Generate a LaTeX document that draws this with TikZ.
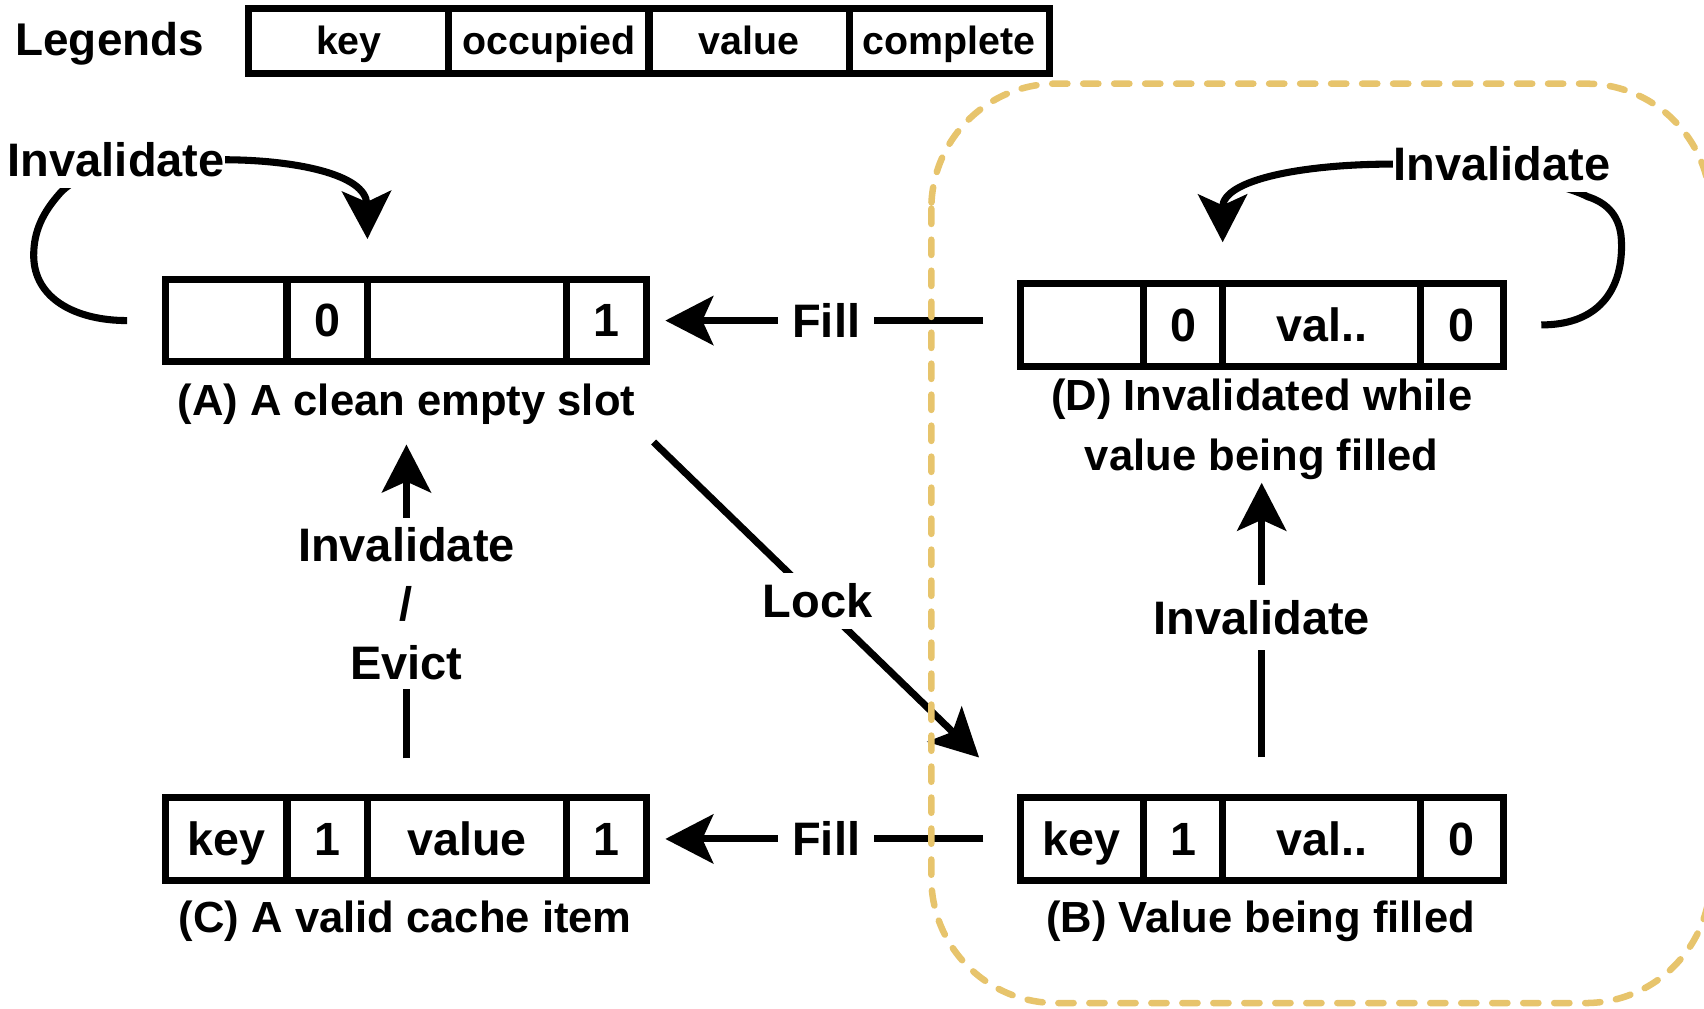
\documentclass[tikz,border=0pt]{standalone}
\usepackage{fontspec}
\setmainfont{Liberation Sans}
\usetikzlibrary{arrows.meta,calc}
\definecolor{lockgold}{RGB}{231,196,108}
\begin{document}
\begin{tikzpicture}[x=0.01cm, y=-0.01cm,
  line width=0.065cm,
  slotcell/.style={draw, line width=0.065cm, minimum height=0.76cm, inner sep=0pt, outer sep=0pt, anchor=west,
    text height=0.39cm, text depth=0.09cm, font=\fontsize{12.2}{14}\selectfont\bfseries},
  legcell/.style={slotcell, minimum height=0.60cm, minimum width=1.84cm, text height=0.326cm, text depth=0.076cm,
    font=\fontsize{10.3}{12}\selectfont\bfseries},
  caption/.style={inner sep=0pt, align=center, font=\fontsize{11.4}{15.5}\selectfont\bfseries},
  edgelabel/.style={fill=white, inner xsep=0.13cm, inner ysep=0.1cm, align=center,
    font=\fontsize{12.3}{15.4}\selectfont\bfseries},
  flow/.style={line width=0.065cm, -{Stealth[length=0.44cm, width=0.45cm, inset=0.1cm]}},
  region/.style={draw=lockgold, line width=0.06cm, line cap=round, dash pattern=on 0.14cm off 0.145cm, rounded corners=1.15cm}
]
\useasboundingbox (0,0) rectangle (1568,928);
\clip (0,0) rectangle (1568,928);

% legend
\node[anchor=base, inner sep=0pt, font=\fontsize{12}{14}\selectfont\bfseries] (legtitle) at (101,51) {Legends};
\node[legcell] (l1) at (229,38) {key};
\node[legcell] (l2) at (l1.east) {occupied};
\node[legcell] (l3) at (l2.east) {value};
\node[legcell] (l4) at (l3.east) {complete};

% (A) clean empty slot
\node[slotcell, minimum width=1.12cm] (a1) at (152,295) {};
\node[slotcell, minimum width=0.74cm] (a2) at (a1.east) {0};
\node[slotcell, minimum width=1.83cm] (a3) at (a2.east) {};
\node[slotcell, minimum width=0.74cm] (a4) at (a3.east) {1};
\node[caption, anchor=base] (capA) at (374,382) {(A) A clean empty slot};

% (C) valid cache item
\node[slotcell, minimum width=1.12cm] (c1) at (152,772) {key};
\node[slotcell, minimum width=0.74cm] (c2) at (c1.east) {1};
\node[slotcell, minimum width=1.83cm] (c3) at (c2.east) {value};
\node[slotcell, minimum width=0.74cm] (c4) at (c3.east) {1};
\node[caption, anchor=base] (capC) at (373,858) {(C) A valid cache item};

% (D) invalidated while filling
\node[slotcell, minimum width=1.13cm] (d1) at (939,299) {};
\node[slotcell, minimum width=0.73cm] (d2) at (d1.east) {0};
\node[slotcell, minimum width=1.82cm] (d3) at (d2.east) {val..};
\node[slotcell, minimum width=0.76cm] (d4) at (d3.east) {0};
\node[caption] (capD) at (1161,395) {(D) Invalidated while\\value being filled};

% (B) value being filled
\node[slotcell, minimum width=1.13cm] (b1) at (939,772) {key};
\node[slotcell, minimum width=0.73cm] (b2) at (b1.east) {1};
\node[slotcell, minimum width=1.82cm] (b3) at (b2.east) {val..};
\node[slotcell, minimum width=0.76cm] (b4) at (b3.east) {0};
\node[caption, anchor=base] (capB) at (1160,858) {(B) Value being filled};

% transitions
\draw[flow, shorten <=0.34cm, shorten >=0.17cm] (a4.east -| d1.west) -- node[edgelabel, pos=0.52]{Fill} (a4.east);
\draw[flow, shorten <=0.34cm, shorten >=0.17cm] (b1.west) -- node[edgelabel, pos=0.52]{Fill} (c4.east);
\draw[flow, shorten <=0.36cm, shorten >=0.155cm] (capA.south |- c1.north) -- node[edgelabel, inner ysep=0.085cm, pos=0.524]{Invalidate\\/\\Evict} (capA.south);
\draw[flow, shorten <=0.37cm] (capD.south |- b1.north) -- node[edgelabel, inner ysep=0.14cm, pos=0.571]{Invalidate} (capD.south);
\draw[flow, shorten <=0.19cm, shorten >=0.53cm] (capA.south east) -- node[edgelabel, pos=0.469]{Lock} (b1.north west);

% self loops
\draw[flow] ([xshift=-0.35cm]a1.west) .. controls (70,295) and (31,275) .. (31,235)
  .. controls (31,212) and (40,195) .. (55,178)
  .. controls (80,150) and (150,147) .. (205,147)
  .. controls (270,147) and (337,160) .. ([yshift=0.37cm]a2.north east);
\node[edgelabel, inner xsep=0pt] (invA) at (107,147) {Invalidate};

\draw[flow] ([xshift=0.35cm]d4.east) .. controls (1475,299) and (1494,262) .. (1492,221)
  .. controls (1491,200) and (1480,187) .. (1461,181)
  .. controls (1430,165) and (1340,151) .. (1282,151)
  .. controls (1200,151) and (1125,165) .. ([yshift=0.38cm]d2.north east);
\node[edgelabel, inner xsep=0pt] (invD) at (1382,151) {Invalidate};

% region of the in-flight states
\draw[region] (857,77) rectangle (1574,923);
\end{tikzpicture}
\end{document}
